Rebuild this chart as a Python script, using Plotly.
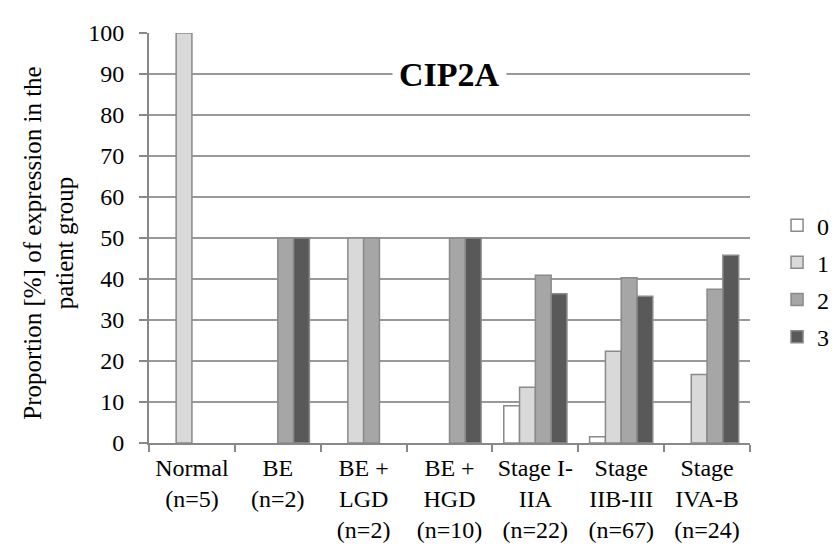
import plotly.graph_objects as go

categories = ["Normal<br>(n=5)", "BE<br>(n=2)", "BE +<br>LGD<br>(n=2)", "BE +<br>HGD<br>(n=10)",
              "Stage I-<br>IIA<br>(n=22)", "Stage<br>IIB-III<br>(n=67)", "Stage<br>IVA-B<br>(n=24)"]
series_names = ["0", "1", "2", "3"]
score0 = [0, 0, 0, 0, 9.1, 1.5, 0]
score1 = [100, 0, 50, 0, 13.6, 22.4, 16.7]
score2 = [0, 50, 50, 50, 40.9, 40.3, 37.5]
score3 = [0, 50, 0, 50, 36.4, 35.8, 45.8]
series_values = [score0, score1, score2, score3]
colors = ["#ffffff", "#d9d9d9", "#a6a6a6", "#595959"]
y_ticks = list(range(0, 101, 10))
y_title = "Proportion [%] of expression in the<br>patient group"
chart_title = "CIP2A"

FONT = "Liberation Serif"

fig = go.Figure()
for name, vals, col in zip(series_names, series_values, colors):
    # zero-height bars are not drawn (as in the original)
    shown = [v if v > 0 else None for v in vals]
    fig.add_trace(go.Bar(
        name=name, x=categories, y=shown, legendgroup=name,
        marker=dict(color=col, line=dict(color="#8a8a8a", width=1.5)),
    ))

fig.update_layout(
    width=838, height=547,
    margin=dict(l=141, r=85, t=20, b=103),
    paper_bgcolor="white", plot_bgcolor="white",
    font=dict(family=FONT, size=24, color="black"),
    barmode="group", bargap=0.264, bargroupgap=0,
    showlegend=True,
    legend=dict(x=1.045, y=0.395, xanchor="left", yanchor="middle",
                font=dict(family=FONT, size=24), tracegroupgap=3,
                itemwidth=30, bgcolor="rgba(0,0,0,0)"),
    annotations=[
        dict(text="<b>" + chart_title + "</b>", x=0.5, xref="paper", y=90, yref="y",
             showarrow=False, font=dict(family=FONT, size=34, color="black"),
             bgcolor="white", borderpad=6, xanchor="center", yanchor="middle"),
        dict(text=y_title, textangle=-90, x=-0.1667, xref="paper", y=0.488, yref="paper",
             showarrow=False, font=dict(family=FONT, size=25, color="black"),
             xanchor="center", yanchor="middle"),
    ],
)
fig.update_xaxes(
    showline=True, linecolor="#888888", linewidth=2,
    ticks="outside", tickson="boundaries", ticklen=7, tickcolor="#888888", tickwidth=1.5,
    showgrid=False, tickfont=dict(family=FONT, size=24), ticklabelstandoff=2,
)
fig.update_yaxes(
    range=[0, 100], tickvals=y_ticks, showline=True, linecolor="#888888", linewidth=2,
    ticks="outside", ticklen=8, tickcolor="#888888", tickwidth=1.5,
    showgrid=True, gridcolor="#999999", gridwidth=1.5, zeroline=False,
    tickfont=dict(family=FONT, size=24), ticklabelstandoff=10,
)
fig.write_html("out.html")
